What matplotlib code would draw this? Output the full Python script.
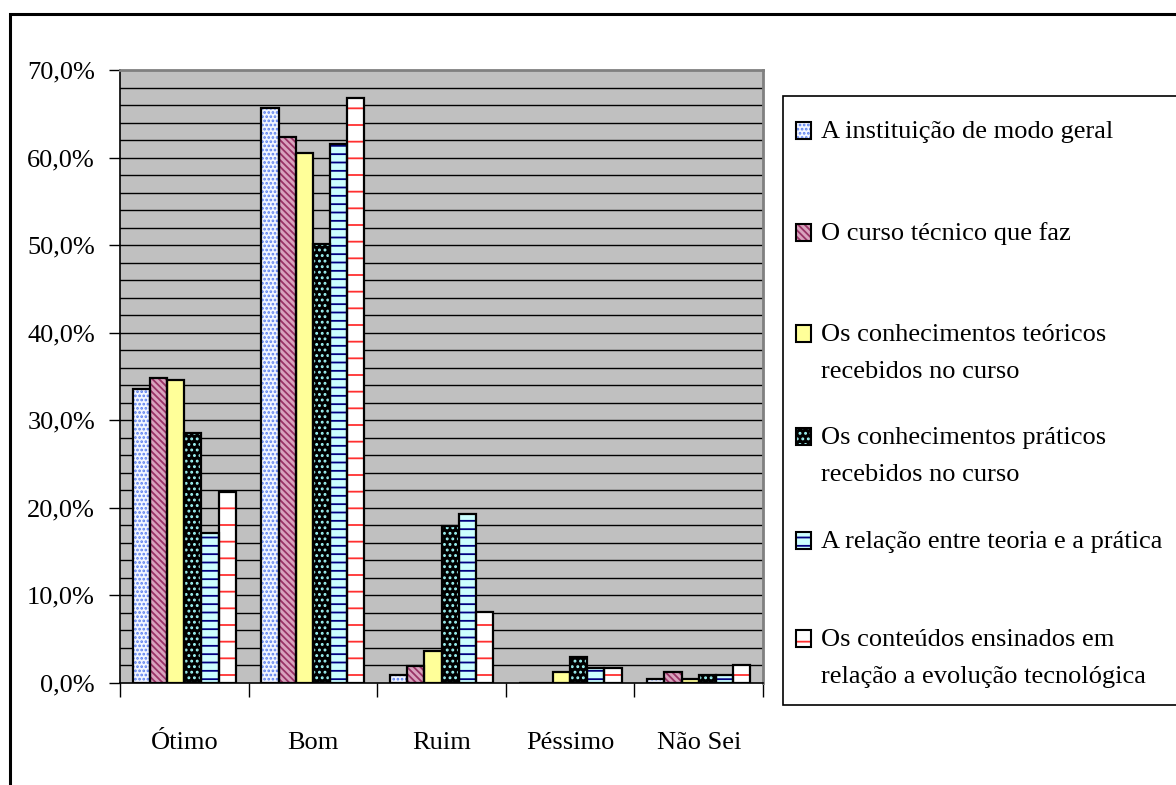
import matplotlib
matplotlib.use("Agg")
import matplotlib.pyplot as plt
from matplotlib.patches import Rectangle
from matplotlib.ticker import FixedLocator, FuncFormatter
import numpy as np

categories = ["Ótimo", "Bom", "Ruim", "Péssimo", "Não Sei"]
series_labels = [
    "A instituição de modo geral",
    "O curso técnico que faz",
    "Os conhecimentos teóricos\nrecebidos no curso",
    "Os conhecimentos práticos\nrecebidos no curso",
    "A relação entre teoria e a prática",
    "Os conteúdos ensinados em\nrelação a evolução tecnológica",
]
instituicao = [33.6, 65.7, 0.9, 0.0, 0.4]
curso = [34.8, 62.3, 1.9, 0.0, 1.2]
teoricos = [34.6, 60.5, 3.7, 1.2, 0.4]
praticos = [28.6, 50.1, 17.9, 3.0, 0.9]
relacao = [17.1, 61.5, 19.3, 1.7, 0.9]
conteudos = [21.8, 66.8, 8.1, 1.7, 2.0]
series_values = [instituicao, curso, teoricos, praticos, relacao, conteudos]
y_ticks = [0, 10, 20, 30, 40, 50, 60, 70]

styles = [
    dict(face="#f2f6ff", hatch="....", hcolor="#5a7ff0"),
    dict(face="#d9a3be", hatch="\\\\\\\\\\", hcolor="#993366"),
    dict(face="#ffff99", hatch=None, hcolor="#ffff99"),
    dict(face="#000000", hatch="...", hcolor="#9ef5f5"),
    dict(face="#ccffff", hatch="--", hcolor="#000080"),
    dict(face="#ffffff", hatch="-", hcolor="#ff3030"),
]

plt.rcParams["font.family"] = ["Liberation Serif", "DejaVu Serif"]
plt.rcParams["hatch.linewidth"] = 1.3
FS = 19

W, H = 1176, 785
fig = plt.figure(figsize=(W / 100, H / 100), dpi=100)

def fx(px):
    return px / W

def fy(py):
    return 1 - py / H

# outer frame
fig.patches.append(Rectangle((fx(10), fy(900)), 1.2, fy(14) - fy(900),
                             transform=fig.transFigure, fill=False,
                             edgecolor="black", linewidth=2.2, zorder=0))

ax = fig.add_axes([fx(120), fy(683), fx(763) - fx(120), fy(70) - fy(683)])
ax.set_facecolor("#c0c0c0")

n = len(series_values)
x = np.arange(len(categories))
bw = 1 / (n + 1.5)
for i, (vals, st) in enumerate(zip(series_values, styles)):
    pos = x - 0.5 + 0.75 * bw + (i + 0.5) * bw
    ax.bar(pos, vals, width=bw, color=st["face"], hatch=st["hatch"],
           edgecolor=st["hcolor"], linewidth=0, zorder=3)
    ax.bar(pos, vals, width=bw, facecolor="none", edgecolor="black",
           linewidth=1.6, zorder=4)

ax.set_xlim(-0.5, len(categories) - 0.5)
ax.set_ylim(0, 70)

# gridlines every 2%
for g in np.arange(2, 70, 2):
    ax.axhline(g, color="black", linewidth=1.0, zorder=1)

ax.yaxis.set_major_locator(FixedLocator(y_ticks))
ax.yaxis.set_major_formatter(FuncFormatter(lambda v, p: f"{v:.1f}%".replace(".", ",")))
ax.tick_params(axis="y", labelsize=FS, length=8, width=1, pad=10, direction="out")

ax.set_xticks(np.arange(len(categories) + 1) - 0.5)
ax.set_xticklabels([])
ax.set_xticks(x, minor=True)
ax.set_xticklabels(categories, minor=True, fontsize=FS)
ax.tick_params(axis="x", which="major", length=10, width=1, direction="out")
ax.tick_params(axis="x", which="minor", length=0, pad=35)

for side in ["top", "right"]:
    ax.spines[side].set_color("#808080")
    ax.spines[side].set_linewidth(2)
for side in ["left", "bottom"]:
    ax.spines[side].set_color("black")
    ax.spines[side].set_linewidth(1.2)
ax.spines["bottom"].set_zorder(5)

# legend drawn manually
fig.patches.append(Rectangle((fx(783), fy(705)), 1.0, fy(96) - fy(705),
                             transform=fig.transFigure, facecolor="white",
                             edgecolor="black", linewidth=1.2, zorder=1))
row_y = [130, 232, 333, 436, 540, 638]
line_gap = 37
for lab, st, ry in zip(series_labels, styles, row_y):
    hx, hw, hh = 796, 15, 17
    fig.patches.append(Rectangle((fx(hx), fy(ry + hh / 2)), fx(hw), fy(ry - hh / 2) - fy(ry + hh / 2),
                                 transform=fig.transFigure, facecolor=st["face"],
                                 hatch=st["hatch"], edgecolor=st["hcolor"], linewidth=0, zorder=2))
    fig.patches.append(Rectangle((fx(hx), fy(ry + hh / 2)), fx(hw), fy(ry - hh / 2) - fy(ry + hh / 2),
                                 transform=fig.transFigure, facecolor="none",
                                 edgecolor="black", linewidth=1.5, zorder=3))
    for k, line in enumerate(lab.split("\n")):
        fig.text(fx(821), fy(ry + 2 + k * line_gap), line, fontsize=FS,
                 va="center", ha="left", zorder=4)

fig.savefig("out.png", dpi=100)
